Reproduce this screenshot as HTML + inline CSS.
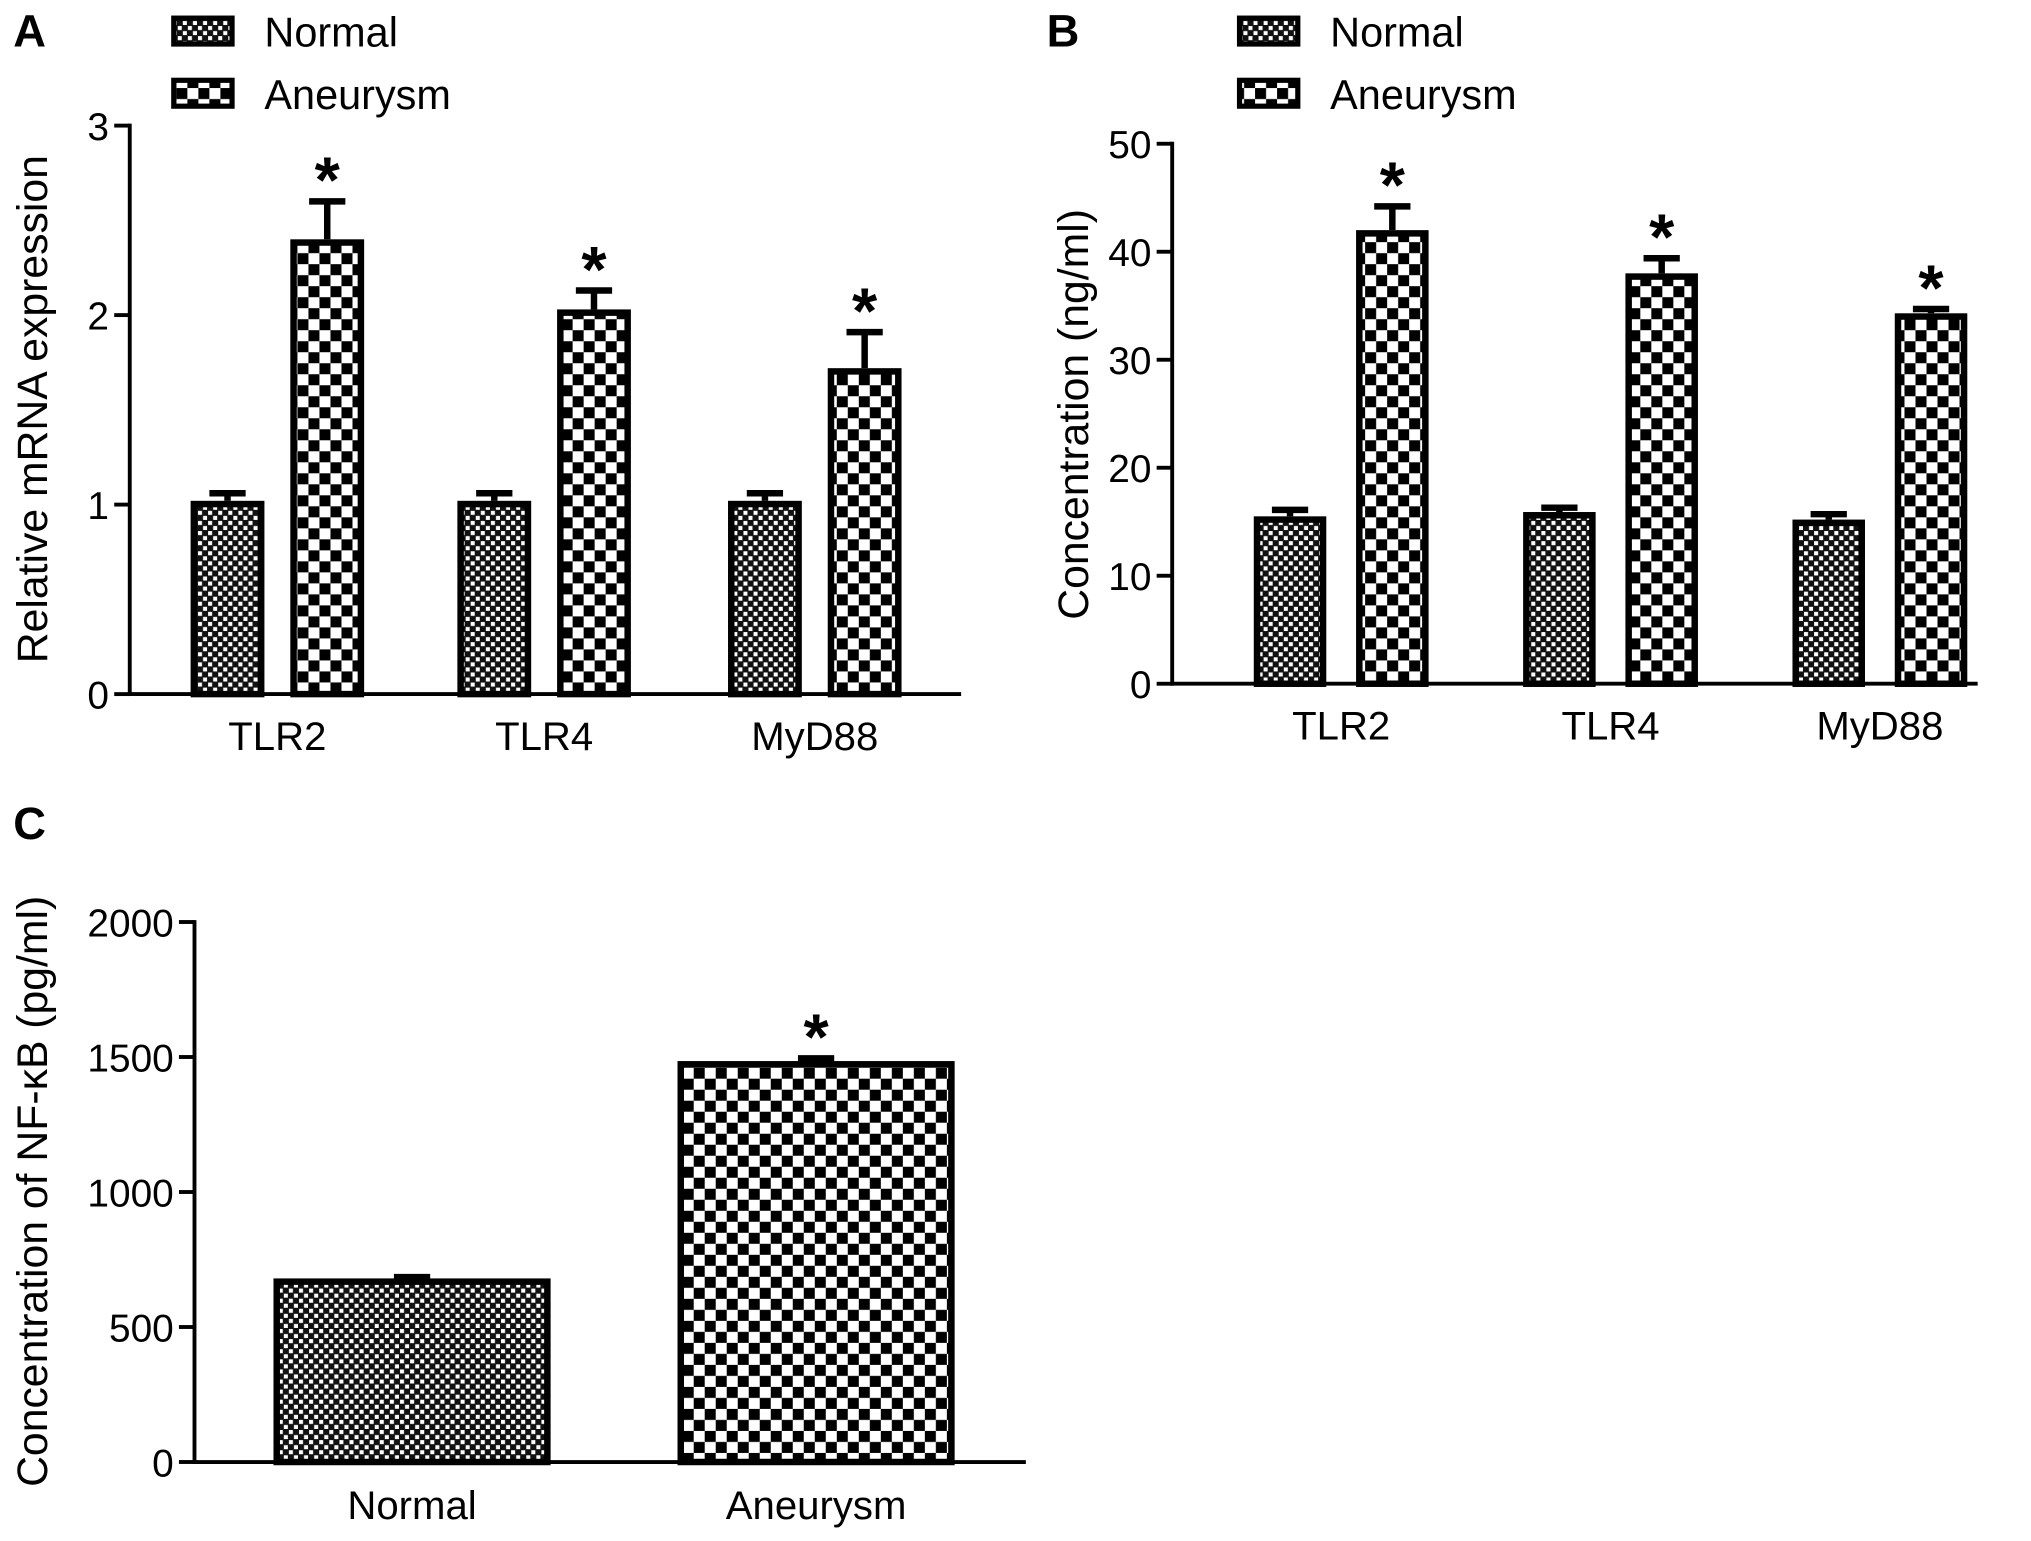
<!DOCTYPE html>
<html><head><meta charset="utf-8"><style>
html,body{margin:0;padding:0;background:#fff;}
svg{display:block;font-family:"Liberation Sans",Arial,sans-serif;}
</style></head><body>
<svg id="fig" width="2031" height="1541" viewBox="0 0 1568 1190" xmlns="http://www.w3.org/2000/svg">
<defs>
<pattern id="pNormal" width="7.8" height="7.8" patternUnits="userSpaceOnUse">
<rect width="7.8" height="7.8" fill="#111"/>
<rect x="0.6" y="0.6" width="3.1" height="3.1" fill="#fff"/>
<rect x="4.5" y="4.5" width="3.1" height="3.1" fill="#fff"/>
</pattern>
<pattern id="pAneu" width="17" height="17" patternUnits="userSpaceOnUse">
<rect width="17" height="17" fill="#fff"/>
<rect x="0" y="0" width="8.5" height="8.5" fill="#000"/>
<rect x="8.5" y="8.5" width="8.5" height="8.5" fill="#000"/>
</pattern>
</defs>
<g id="root"></g>
</svg>
<script>
// Panel A data
const catsA = ["TLR2","TLR4","MyD88"];
const normalA = [1.02,1.02,1.02];
const normalErrA = [0.04,0.04,0.04];
const aneuA = [2.40,2.03,1.72];
const aneuErrA = [0.20,0.10,0.19];
const ticksA = [0,1,2,3];
// Panel B data
const catsB = ["TLR2","TLR4","MyD88"];
const normalB = [15.5,15.9,15.2];
const normalErrB = [0.6,0.4,0.5];
const aneuB = [42.0,38.0,34.3];
const aneuErrB = [2.2,1.4,0.4];
const ticksB = [0,10,20,30,40,50];
// Panel C data
const catsC = ["Normal","Aneurysm"];
const valsC = [680,1485];
const errC = [5,10];
const ticksC = [0,500,1000,1500,2000];

const NS="http://www.w3.org/2000/svg";
const root=document.getElementById('root');
function mk(tag,attrs,parent,text){const e=document.createElementNS(NS,tag);for(const k in attrs)e.setAttribute(k,attrs[k]);if(text!==undefined)e.textContent=text;(parent||root).appendChild(e);return e;}

function axis(g,x0,yBottom,yTop,xEnd,ticks,maxV,name){
  const y=v=>yBottom-(v/maxV)*(yBottom-yTop);
  const ax=mk('line',{x1:x0,y1:yBottom+1.5,x2:x0,y2:yTop-1.5,stroke:'#000','stroke-width':3},g);
  
  
  const xa=mk('line',{x1:x0-1.5,y1:yBottom,x2:xEnd,y2:yBottom,stroke:'#000','stroke-width':3},g);
  
  
  ticks.forEach(t=>{
    const l=mk('line',{x1:x0-12,y1:y(t),x2:x0,y2:y(t),stroke:'#000','stroke-width':3},g);
    
    
    const tx=mk('text',{x:x0-16,y:y(t)+11,'text-anchor':'end','font-size':30},g,String(t));
    
    
  });
  return y;
}
function bar(g,x1,x2,yb,yv,err,y,fill,star,name){
  const yt=y(yv);
  const cx=(x1+x2)/2;
  const eTop=y(yv+err);
  const el=mk('line',{x1:cx,y1:yt,x2:cx,y2:eTop,stroke:'#000','stroke-width':5},g);
  
  
  const cap=mk('line',{x1:cx-14,y1:eTop,x2:cx+14,y2:eTop,stroke:'#000','stroke-width':5},g);
  
  
  const r=mk('rect',{x:x1+2.5,y:yt+2.5,width:x2-x1-5,height:yb-yt-2.5,fill:fill,stroke:'#000','stroke-width':5},g);
  
  
  if(star){
    const s=mk('text',{x:cx,y:eTop+1,'text-anchor':'middle','font-size':50,'font-weight':'bold'},g,'*');
    
    
  }
}
function legend(g,x,name){
  [["Normal","url(#pNormal)",12],["Aneurysm","url(#pAneu)",60]].forEach(([t,f,yy])=>{
    const r=mk('rect',{x:x+2,y:yy+2,width:45,height:20,fill:f,stroke:'#000','stroke-width':4},g);
    
    
    const tx=mk('text',{x:x+72,y:yy+24,'font-size':32},g,t);
    
    
  });
}
function label(txt,x,y,name){
  const t=mk('text',{x:x,y:y,'font-size':35,'font-weight':'bold'},root,txt);
  
  
}
function ytitle(g,txt,x,cy,name){
  const t=mk('text',{x:x,y:cy,'text-anchor':'middle','font-size':33,transform:`rotate(-90 ${x} ${cy})`},g,txt);
  
  
}
function grouped(name,x0,yb,yt,xEnd,ticks,maxV,groupStarts,cats,nv,ne,av,ae,bw,gap,labY){
  const g=mk('g',{});
  
  
  const y=axis(g,x0,yb,yt,xEnd,ticks,maxV,name);
  cats.forEach((c,i)=>{
    const s=groupStarts[i];
    bar(g,s,s+bw,yb,nv[i],ne[i],y,'url(#pNormal)',false,name+'-bar-normal-'+c.toLowerCase());
    bar(g,s+bw+gap,s+2*bw+gap,yb,av[i],ae[i],y,'url(#pAneu)',true,name+'-bar-aneurysm-'+c.toLowerCase());
    const t=mk('text',{x:s+bw+gap/2,y:labY,'text-anchor':'middle','font-size':31},g,c);
    
    
  });
  return g;
}
// Panel A
const gA=grouped('panel-a',100,536,97,742,ticksA,3,[147,353,562],catsA,normalA,normalErrA,aneuA,aneuErrA,57,20,579);
ytitle(gA,'Relative mRNA expression',36,316,'panel-a-y-axis-title');
legend(gA,132,'panel-a');
label('A',10,36,'panel-a-label');
// Panel B
const gB=grouped('panel-b',905,528,111,1527,ticksB,50,[968,1176,1384],catsB,normalB,normalErrB,aneuB,aneuErrB,56,23,571);
ytitle(gB,'Concentration (ng/ml)',840,320,'panel-b-y-axis-title');
legend(gB,955,'panel-b');
label('B',808,36,'panel-b-label');
// Panel C
const gC=mk('g',{});


const yC=axis(gC,150,1129,712,792,ticksC,2000,'panel-c');
const xs=[211,523];
catsC.forEach((c,i)=>{
  bar(gC,xs[i],xs[i]+214,1129,valsC[i],errC[i],yC,i===0?'url(#pNormal)':'url(#pAneu)',i===1,'panel-c-bar-'+c.toLowerCase());
  const t=mk('text',{x:xs[i]+107,y:1173,'text-anchor':'middle','font-size':31},gC,c);
  
  
});
ytitle(gC,'Concentration of NF-κB (pg/ml)',36,920,'panel-c-y-axis-title');
label('C',10,648,'panel-c-label');
</script>
</body></html>
